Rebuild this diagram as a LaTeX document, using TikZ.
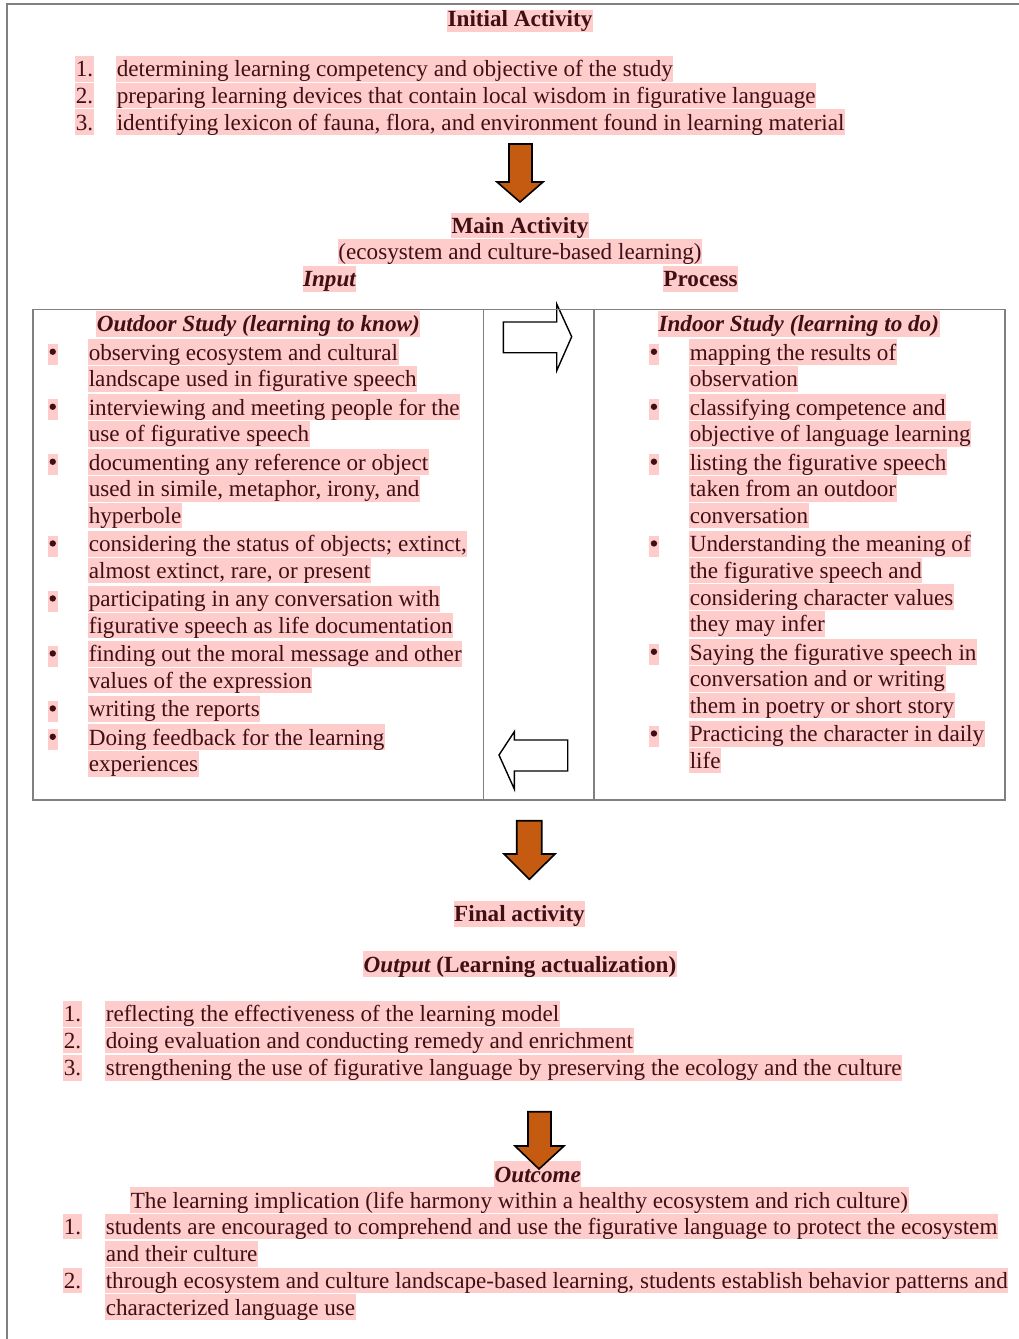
\documentclass[tikz,border=0pt]{standalone}
\usepackage{fontspec}
\setmainfont{Liberation Serif}
\definecolor{hlpink}{HTML}{FFCCCC}
\definecolor{txtc}{HTML}{3F0F14}
\definecolor{arrfill}{HTML}{C55A11}
\definecolor{framegray}{HTML}{808080}
\begin{document}
\begin{tikzpicture}[x=1pt,y=-1pt,
  hl/.style={fill=hlpink, text=txtc, inner xsep=0.6pt, inner ysep=0pt, text height=20.7pt, text depth=5.1pt, font=\fontsize{23.15}{27}\selectfont},
  hlw/.style={hl, anchor=base west},
  hlc/.style={hl, anchor=base},
  bul/.style={fill=hlpink, anchor=base west, inner sep=0pt, minimum width=10.5pt, text height=15.6pt, text depth=5.1pt,
    path picture={\fill[txtc] ([yshift=3pt]path picture bounding box.center) circle (3.2pt);}},
  blockarrow/.style={draw=black, line width=1.6pt, fill=arrfill, line join=miter},
  outarrow/.style={draw=black, line width=1.4pt, line join=miter},
  rule/.style={draw=framegray, line width=1.6pt}
]
\fill[white] (0,0) rectangle (1019,1339);
\useasboundingbox (0,0) rectangle (1019,1339);
% outer frame
\draw[rule] (6.7,1339) -- (6.7,4) -- (1019,4);

% Initial activity
\node[hlc, text height=17pt] (init) at (520,26.7) {\bfseries Initial Activity};
\node[hlw] (n1) at (75,76.7) {1.};
\node[hlw] (i1) at (116,76.7) {determining learning competency and objective of the study};
\node[hlw] (n2) at (75,103.3) {2.};
\node[hlw] (i2) at (116,103.3) {preparing learning devices that contain local wisdom in figurative language};
\node[hlw] (n3) at (75,130) {3.};
\node[hlw] (i3) at (116,130) {identifying lexicon of fauna, flora, and environment found in learning material};

% arrow 1
\draw[blockarrow] (509,144) -- (532,144) -- (532,182) -- (543,182) -- (520,202) -- (497,182) -- (509,182) -- cycle;

% Main activity
\node[hlc] (main) at (520,233.3) {\bfseries Main Activity};
\node[hlc] (eco) at (520,259.3) {(ecosystem and culture-based learning)};
\node[hlc] (input) at (329.5,286.7) {\bfseries\itshape Input};
\node[hlc] (process) at (700.5,286.7) {\bfseries Process};

% outline arrows
\draw[outarrow] (503.3,322) -- (556.7,322) -- (556.7,304) -- (571.7,336.7) -- (556.7,370.7) -- (556.7,352.7) -- (503.3,352.7) -- cycle;
\draw[outarrow] (499,755) -- (514.3,731.7) -- (514.3,740) -- (567.7,740) -- (567.7,771) -- (514.3,771) -- (514.3,789) -- cycle;

% table
\draw[rule] (32.7,309.3) rectangle (1005,800);
\draw[rule] (483.5,309.3) -- (483.5,800);
\draw[rule] (594,309.3) -- (594,800);

% left column
\node[hlc] (outh) at (258.3,331.7) {\bfseries\itshape Outdoor Study (learning to know)};
\node[bul] (lb1) at (47.3,360) {};
\node[hlw] (l1) at (88,360) {observing ecosystem and cultural};
\node[hlw] (l2) at (88,386.7) {landscape used in figurative speech};
\node[bul] (lb2) at (47.3,415) {};
\node[hlw] (l3) at (88,415) {interviewing and meeting people for the};
\node[hlw] (l4) at (88,441.7) {use of figurative speech};
\node[bul] (lb3) at (47.3,470) {};
\node[hlw] (l5) at (88,470) {documenting any reference or object};
\node[hlw] (l6) at (88,496.7) {used in simile, metaphor, irony, and};
\node[hlw] (l7) at (88,523.3) {hyperbole};
\node[bul] (lb4) at (47.3,551.7) {};
\node[hlw] (l8) at (88,551.7) {considering the status of objects; extinct,};
\node[hlw] (l9) at (88,578.3) {almost extinct, rare, or present};
\node[bul] (lb5) at (47.3,606.7) {};
\node[hlw] (l10) at (88,606.7) {participating in any conversation with};
\node[hlw] (l11) at (88,633.3) {figurative speech as life documentation};
\node[bul] (lb6) at (47.3,661.7) {};
\node[hlw] (l12) at (88,661.7) {finding out the moral message and other};
\node[hlw] (l13) at (88,688.3) {values of the expression};
\node[bul] (lb7) at (47.3,716.7) {};
\node[hlw] (l14) at (88,716.7) {writing the reports};
\node[bul] (lb8) at (47.3,745) {};
\node[hlw] (l15) at (88,745) {Doing feedback for the learning};
\node[hlw] (l16) at (88,771.7) {experiences};

% right column
\node[hlc] (inh) at (798.8,331.7) {\bfseries\itshape Indoor Study (learning to do)};
\node[bul] (rb1) at (648.5,360) {};
\node[hlw] (r1) at (689,360) {mapping the results of};
\node[hlw] (r2) at (689,386.7) {observation};
\node[bul] (rb2) at (648.5,415) {};
\node[hlw] (r3) at (689,415) {classifying competence and};
\node[hlw] (r4) at (689,441.7) {objective of language learning};
\node[bul] (rb3) at (648.5,470) {};
\node[hlw] (r5) at (689,470) {listing the figurative speech};
\node[hlw] (r6) at (689,496.7) {taken from an outdoor};
\node[hlw] (r7) at (689,523.3) {conversation};
\node[bul] (rb4) at (648.5,551.7) {};
\node[hlw] (r8) at (689,551.7) {Understanding the meaning of};
\node[hlw] (r9) at (689,578.3) {the figurative speech and};
\node[hlw] (r10) at (689,605) {considering character values};
\node[hlw] (r11) at (689,631.7) {they may infer};
\node[bul] (rb5) at (648.5,660) {};
\node[hlw] (r12) at (689,660) {Saying the figurative speech in};
\node[hlw] (r13) at (689,686.7) {conversation and or writing};
\node[hlw] (r14) at (689,713.3) {them in poetry or short story};
\node[bul] (rb6) at (648.5,741.7) {};
\node[hlw] (r15) at (689,741.7) {Practicing the character in daily};
\node[hlw] (r16) at (689,768.3) {life};

% arrow 2
\draw[blockarrow] (516.7,820.7) -- (541.7,820.7) -- (541.7,854) -- (555,854) -- (529.3,879.3) -- (504,854) -- (516.7,854) -- cycle;

% Final activity
\node[hlc] (final) at (519.5,921.7) {\bfseries Final activity};
\node[hlc] (output) at (520,972) {\bfseries\itshape Output\upshape\ (Learning actualization)};
\node[hlw] (m1) at (63,1021.7) {1.};
\node[hlw] (o1) at (105,1021.7) {reflecting the effectiveness of the learning model};
\node[hlw] (m2) at (63,1048.3) {2.};
\node[hlw] (o2) at (105,1048.3) {doing evaluation and conducting remedy and enrichment};
\node[hlw] (m3) at (63,1075.5) {3.};
\node[hlw] (o3) at (105,1075.5) {strengthening the use of figurative language by preserving the ecology and the culture};

% Outcome
\node[hlc] (outcome) at (537.8,1182) {\bfseries\itshape Outcome};
\draw[blockarrow] (528,1111.7) -- (551,1111.7) -- (551,1146) -- (564,1146) -- (539,1169) -- (515,1146) -- (528,1146) -- cycle;
\node[hlw] (impl) at (130,1208) {The learning implication (life harmony within a healthy ecosystem and rich culture)};
\node[hlw] (k1) at (63,1234.3) {1.};
\node[hlw] (u1) at (105,1234.3) {students are encouraged to comprehend and use the figurative language to protect the ecosystem};
\node[hlw] (u2) at (105,1261.5) {and their culture};
\node[hlw] (k2) at (63,1288.3) {2.};
\node[hlw] (u3) at (105,1288.3) {through ecosystem and culture landscape-based learning, students establish behavior patterns and};
\node[hlw] (u4) at (105,1315) {characterized language use};
\end{tikzpicture}
\end{document}
